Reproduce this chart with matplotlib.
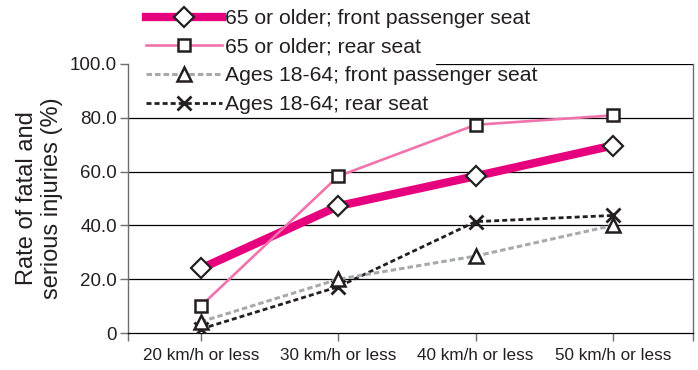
import matplotlib
matplotlib.use("Agg")
import matplotlib.pyplot as plt

# Impact speed categories and injury rates (%)
speeds = ["20 km/h or less", "30 km/h or less", "40 km/h or less", "50 km/h or less"]
older_front = [24.0, 47.2, 58.3, 69.7]
older_rear = [10.1, 58.3, 77.4, 80.9]
adult_front = [4.2, 20.0, 28.6, 40.0]
adult_rear = [1.5, 17.2, 41.4, 43.7]

y_ticks = [0, 20, 40, 60, 80, 100]
y_tick_labels = ["0", "20.0", "40.0", "60.0", "80.0", "100.0"]

plt.rcParams["font.family"] = ["Liberation Sans", "DejaVu Sans"]
text_color = "#231f20"
axis_gray = "#6d6e71"

fig = plt.figure(figsize=(6.98, 3.70), dpi=100)
ax = fig.add_axes([128 / 698, 37 / 370, 565 / 698, 269 / 370])

x = list(range(len(speeds)))
x_lo, x_hi = -0.532, 3.583

l1, = ax.plot(x, older_front, color="#e6007e", lw=6, marker="D", ms=10.5,
              mfc="white", mec=text_color, mew=1.6, zorder=5,
              label="65 or older; front passenger seat")
l2, = ax.plot(x, older_rear, color="#f173ac", lw=1.9, marker="s", ms=8.5,
              mfc="white", mec=text_color, mew=1.8, zorder=6,
              label="65 or older; rear seat")
l3, = ax.plot(x, adult_front, color="#a7a9ac", lw=2.2, ls=(0, (1.8, 1.0)),
              marker="^", ms=10, mfc="white", mec=text_color, mew=1.8,
              zorder=4, label="Ages 18-64; front passenger seat")
l4, = ax.plot(x, adult_rear, color=text_color, lw=2.0, ls=(0, (1.8, 1.1)),
              marker="x", ms=10, mec=text_color, mew=2.0, zorder=3,
              label="Ages 18-64; rear seat")

# horizontal rules; the one at 100 only shows right of the legend
for y in y_ticks[1:-1]:
    ax.axhline(y, color="black", lw=0.9, zorder=1)
ax.axhline(100, xmin=(436 - 128) / 565, xmax=1, color="black", lw=0.9, zorder=1)

ax.set_xlim(x_lo, x_hi)
ax.set_ylim(0, 100)
ax.set_xticks(x)
ax.set_xticklabels(speeds)
ax.set_xticks([x_lo, x_hi], minor=True)
ax.set_yticks(y_ticks)
ax.set_yticklabels(y_tick_labels)

ax.spines["top"].set_visible(False)
ax.spines["bottom"].set_color("black")
ax.spines["bottom"].set_linewidth(0.9)
for side in ("left", "right"):
    ax.spines[side].set_color(axis_gray)
    ax.spines[side].set_linewidth(1.0)

ax.tick_params(axis="x", which="both", direction="out", length=6, width=1.0,
               color=axis_gray, labelsize=12.3, labelcolor=text_color, pad=5)
ax.tick_params(axis="y", direction="out", length=6, width=1.0,
               color=axis_gray, labelsize=13.5, labelcolor=text_color, pad=2)

ax.set_ylabel("Rate of fatal and\nserious injuries (%)", fontsize=17,
              color=text_color, multialignment="center")
ax.yaxis.set_label_coords(-0.115, 0.5)

fig.legend(handles=[l1, l2, l3, l4], loc="upper left",
           bbox_to_anchor=(146 / 698, 1 - 9 / 370), frameon=False,
           fontsize=15.2, handlelength=3.6, handletextpad=0.15,
           labelspacing=0.46, borderpad=0, borderaxespad=0,
           labelcolor=text_color)

fig.savefig("out.png", dpi=100)
